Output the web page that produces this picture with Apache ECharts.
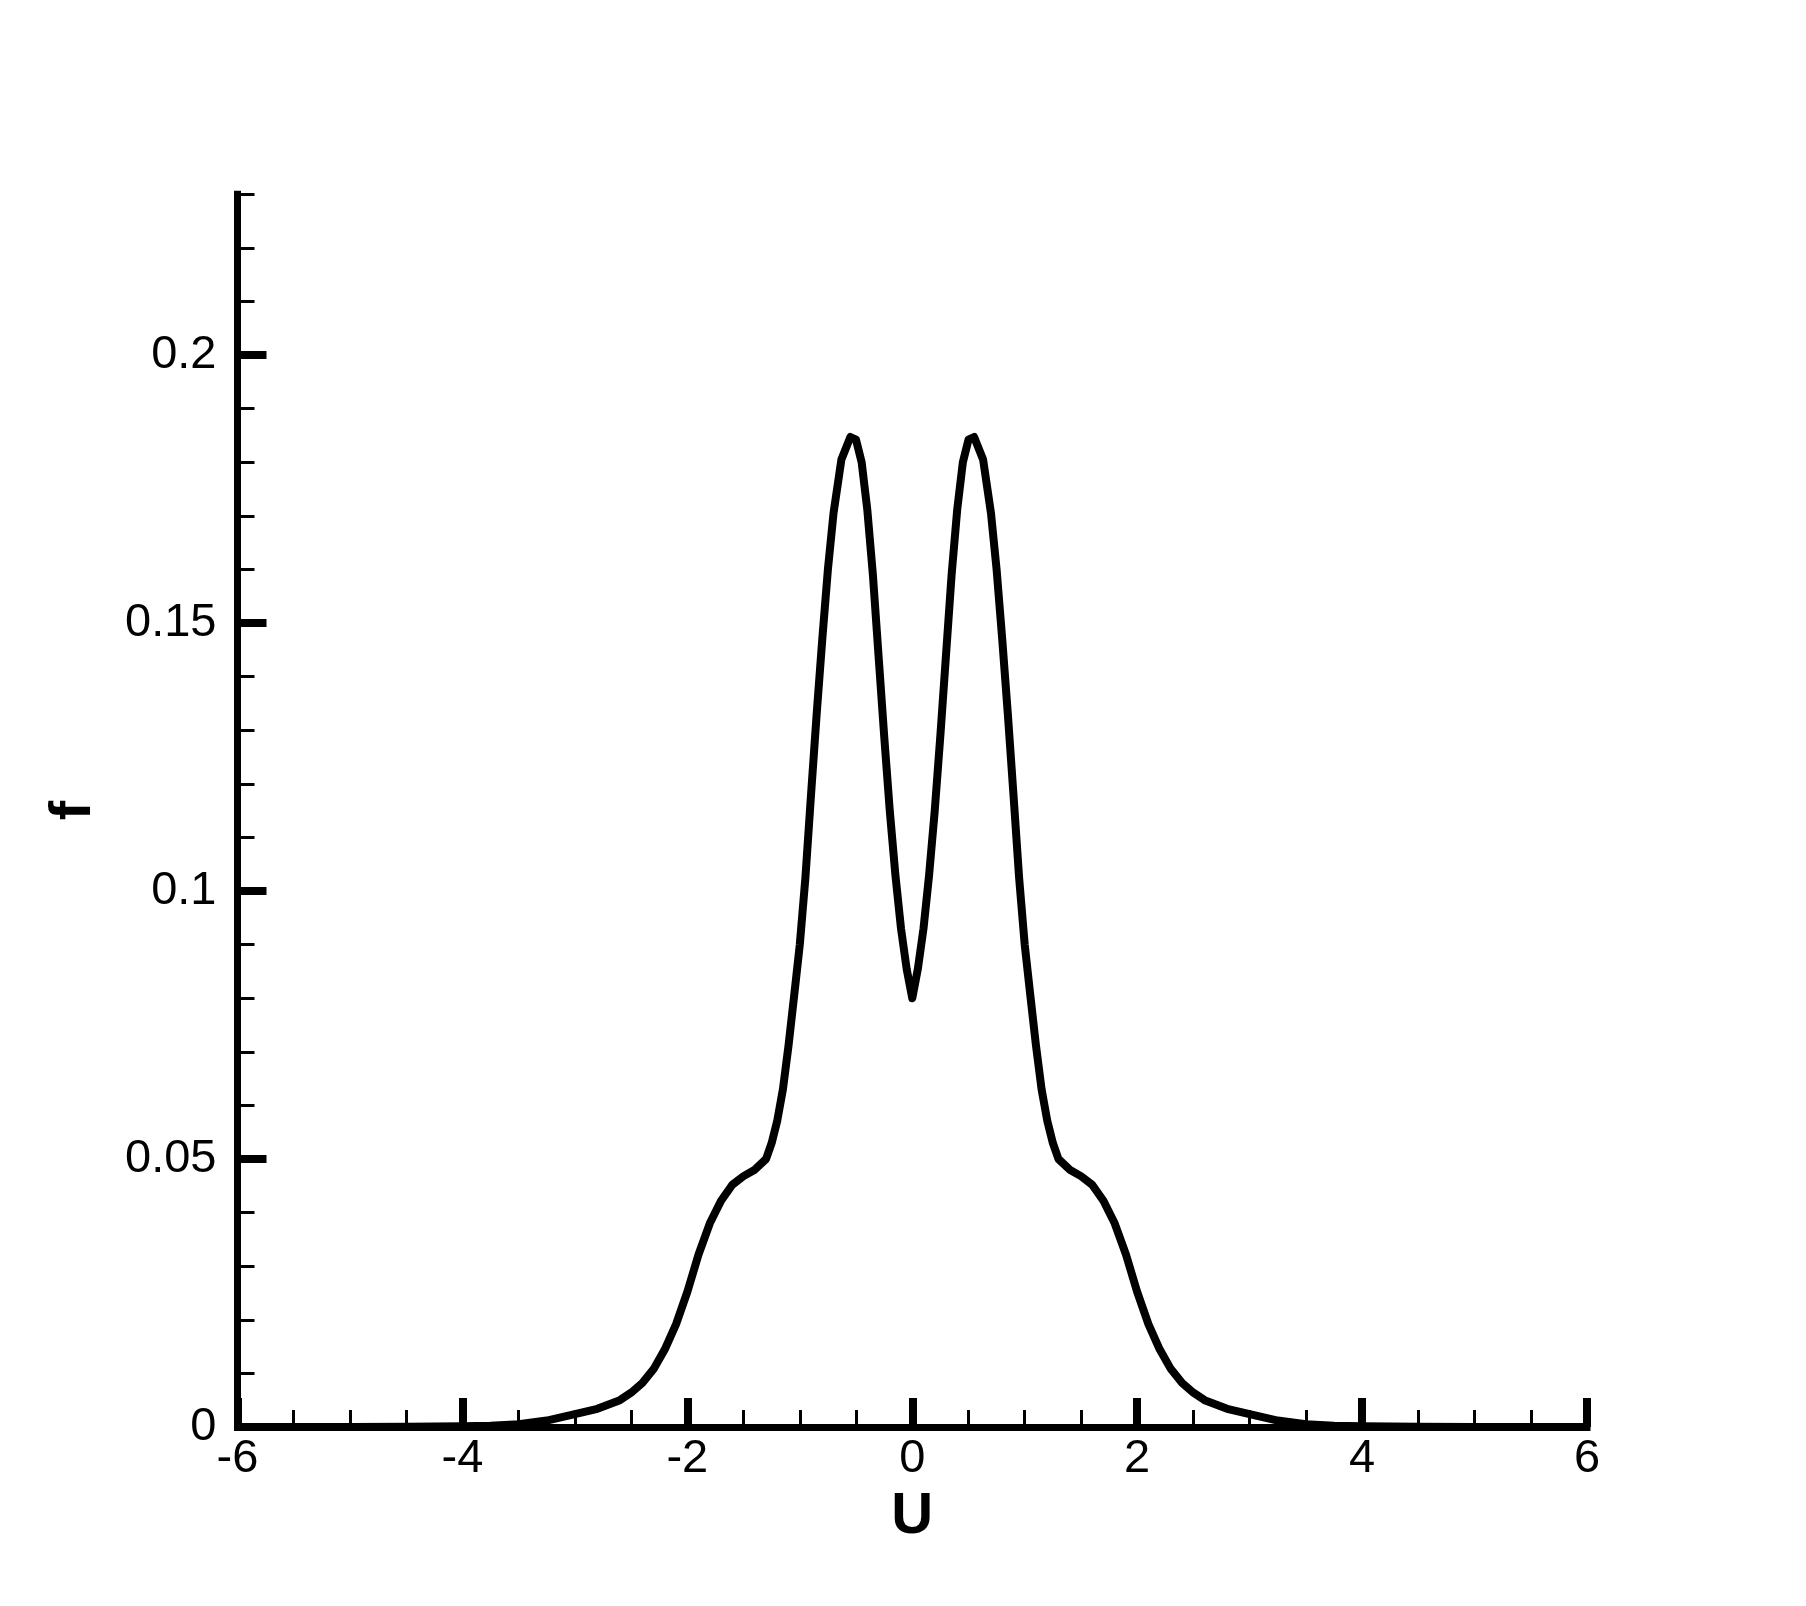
<!DOCTYPE html>
<html>
<head>
<meta charset="utf-8">
<script src="https://cdn.jsdelivr.net/npm/echarts@6/dist/echarts.min.js"></script>
<style>
html,body{margin:0;padding:0;background:#fff;}
#chart{width:1806px;height:1606px;}
</style>
</head>
<body>
<div id="chart"></div>
<script>
// U values (x) and f values (y)
const uValues = [-6, -5.5, -5, -4.5, -4, -3.75, -3.5, -3.25, -3, -2.8, -2.6, -2.5, -2.4, -2.3, -2.2, -2.1, -2, -1.9, -1.8, -1.7, -1.6, -1.5, -1.4, -1.3, -1.25, -1.2, -1.15, -1.1, -1.05, -1, -0.95, -0.9, -0.85, -0.8, -0.75, -0.7, -0.63, -0.55, -0.5, -0.45, -0.4, -0.35, -0.3, -0.25, -0.2, -0.15, -0.1, -0.05, 0,
  0.05, 0.1, 0.15, 0.2, 0.25, 0.3, 0.35, 0.4, 0.45, 0.5, 0.55, 0.63, 0.7, 0.75, 0.8, 0.85, 0.9, 0.95, 1, 1.05, 1.1, 1.15, 1.2, 1.25, 1.3, 1.4, 1.5, 1.6, 1.7, 1.8, 1.9, 2, 2.1, 2.2, 2.3, 2.4, 2.5, 2.6, 2.8, 3, 3.25, 3.5, 3.75, 4, 4.5, 5, 5.5, 6];
const fValues = [0, 0, 0.00002, 0.00005, 0.00012, 0.00025, 0.0005, 0.0012, 0.0024, 0.0034, 0.0050, 0.0064, 0.0082, 0.0108, 0.0145, 0.0192, 0.0252, 0.0322, 0.0380, 0.0422, 0.0452, 0.0468, 0.0480, 0.0500, 0.0530, 0.0572, 0.0630, 0.0712, 0.0805, 0.0900, 0.1025, 0.1180, 0.1330, 0.1470, 0.1600, 0.1705, 0.1805, 0.1847, 0.1842, 0.1800, 0.1712, 0.1590, 0.1440, 0.1290, 0.1150, 0.1030, 0.0930, 0.0855, 0.0800,
  0.0855, 0.0930, 0.1030, 0.1150, 0.1290, 0.1440, 0.1590, 0.1712, 0.1800, 0.1842, 0.1847, 0.1805, 0.1705, 0.1600, 0.1470, 0.1330, 0.1180, 0.1025, 0.0900, 0.0805, 0.0712, 0.0630, 0.0572, 0.0530, 0.0500, 0.0480, 0.0468, 0.0452, 0.0422, 0.0380, 0.0322, 0.0252, 0.0192, 0.0145, 0.0108, 0.0082, 0.0064, 0.0050, 0.0034, 0.0024, 0.0012, 0.0005, 0.00025, 0.00012, 0.00005, 0.00002, 0, 0];
const yMajorTicks = [0, 0.05, 0.1, 0.15, 0.2];
const xMajorTicks = [-6, -4, -2, 0, 2, 4, 6];
const xName = 'U';
const yName = 'f';

const FONT = '"Liberation Sans", Arial, Helvetica, sans-serif';
const chart = echarts.init(document.getElementById('chart'));
const data = uValues.map((u, i) => [u, fValues[i]]);

chart.setOption({
  animation: false,
  backgroundColor: '#fff',
  grid: { left: 237.5, right: 219, top: 194.2, bottom: 179, containLabel: false },
  xAxis: {
    type: 'value', min: xMajorTicks[0], max: xMajorTicks[xMajorTicks.length - 1], interval: 2,
    name: xName, nameLocation: 'middle', nameGap: 54,
    nameTextStyle: { fontSize: 58, fontWeight: 'bold', color: '#000', fontFamily: FONT },
    axisLine: { show: true, onZero: false, lineStyle: { color: '#000', width: 7, cap: 'square' } },
    axisTick: { show: true, inside: true, length: 29, lineStyle: { color: '#000', width: 8 } },
    minorTick: { show: true, splitNumber: 4, length: 17, lineStyle: { color: '#000', width: 3 } },
    axisLabel: { show: true, margin: 9, fontSize: 47, color: '#000', fontFamily: FONT,
      formatter: v => String(v) },
    splitLine: { show: false }, minorSplitLine: { show: false }
  },
  yAxis: [
    {
      type: 'value', min: 0, max: 0.23, interval: 0.01, position: 'left',
      name: yName, nameLocation: 'middle', nameGap: 135, nameRotate: 90,
      nameTextStyle: { fontSize: 58, fontWeight: 'bold', color: '#000', fontFamily: FONT },
      axisLine: { show: true, onZero: false, lineStyle: { color: '#000', width: 7, cap: 'square' } },
      axisTick: { show: true, inside: true, length: 17, lineStyle: { color: '#000', width: 3 } },
      axisLabel: { show: false },
      splitLine: { show: false }
    },
    {
      type: 'value', min: 0, max: 0.23, position: 'left', offset: 0,
      axisLine: { show: false, onZero: false },
      axisTick: { show: true, inside: true, length: 29, lineStyle: { color: '#000', width: 8 }, customValues: yMajorTicks },
      axisLabel: { show: true, margin: 21, fontSize: 47, color: '#000', fontFamily: FONT, customValues: yMajorTicks,
        formatter: v => String(v) },
      splitLine: { show: false }
    }
  ],
  series: [{
    type: 'line', data: data, xAxisIndex: 0, yAxisIndex: 0,
    showSymbol: false, smooth: false, clip: false,
    lineStyle: { color: '#000', width: 8, join: 'round' },
    z: 5
  }]
});
</script>
</body>
</html>
